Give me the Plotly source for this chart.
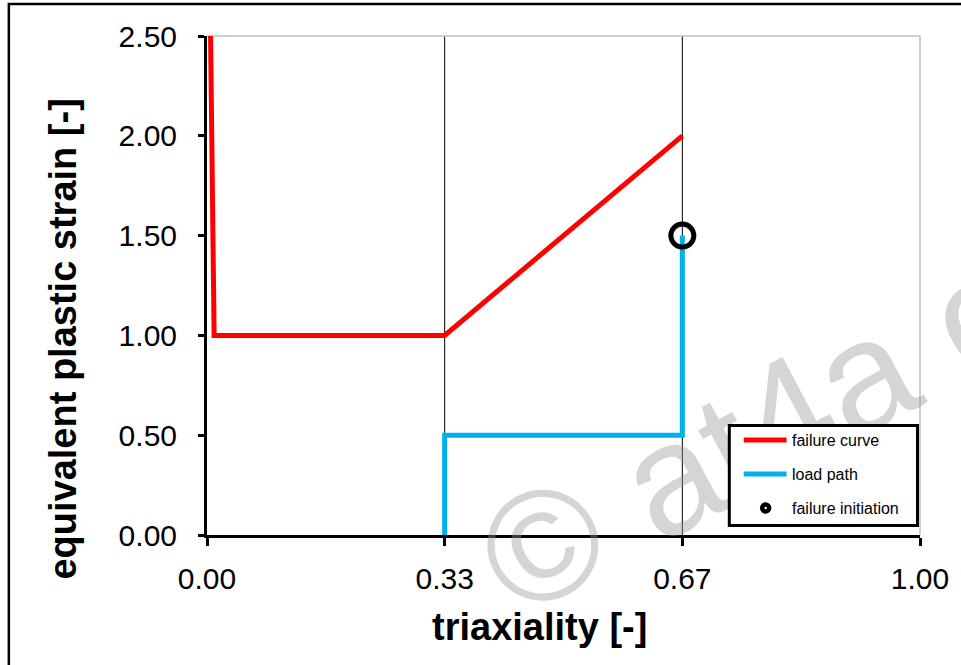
import plotly.graph_objects as go

# Failure curve: equivalent plastic strain at fracture vs. stress triaxiality
tri_fail = [0.005, 0.01, 1 / 3, 2 / 3]
eps_fail = [2.50, 1.00, 1.00, 2.00]

# Load path followed by the material point
tri_load = [1 / 3, 1 / 3, 2 / 3, 2 / 3]
eps_load = [0.00, 0.50, 0.50, 1.50]

# Point where the load path reaches failure
tri_init = [2 / 3]
eps_init = [1.50]

x_ticks = [0, 1 / 3, 2 / 3, 1]
x_tick_text = ["0.00", "0.33", "0.67", "1.00"]
y_ticks = [0.0, 0.5, 1.0, 1.5, 2.0, 2.5]

legend_labels = ["failure curve", "load path", "failure initiation"]

FONT = "Liberation Sans, Arial, sans-serif"
RED = "#FF0000"
BLUE = "#00B0F0"

# page margins (961 x 665 canvas)
L, R, T, B = 207, 35, 36, 130
# nominal plot-area span used to place decorations relative to the axes
PX0, PX1, PY0, PY1 = 207, 923, 36, 535


def px(x):
    return (x - PX0) / (PX1 - PX0)


def py(y):
    return (PY1 - y) / (PY1 - PY0)


fig = go.Figure()
fig.add_trace(go.Scatter(x=tri_fail, y=eps_fail, mode="lines", name=legend_labels[0],
                         line=dict(color=RED, width=5)))
fig.add_trace(go.Scatter(x=tri_load, y=eps_load, mode="lines", name=legend_labels[1],
                         line=dict(color=BLUE, width=5)))
fig.add_trace(go.Scatter(x=tri_init, y=eps_init, mode="markers", name=legend_labels[2],
                         marker=dict(symbol="circle-open", size=23, color="black",
                                     line=dict(width=5, color="black"))))

shapes = []
# thin black reference lines at the inner triaxiality ticks
for xv in x_ticks[1:-1]:
    shapes.append(dict(type="line", xref="x", yref="paper", x0=xv, x1=xv, y0=0, y1=1,
                       line=dict(color="black", width=1), layer="below"))
# light grey frame on top and right of the plot area
shapes.append(dict(type="line", xref="paper", yref="paper", x0=0, x1=1, y0=1, y1=1,
                   line=dict(color="#BFBFBF", width=1.5), layer="below"))
shapes.append(dict(type="line", xref="paper", yref="paper", x0=1, x1=1, y0=0, y1=1,
                   line=dict(color="#BFBFBF", width=1.5), layer="below"))
# outer chart border
shapes.append(dict(type="rect", xref="paper", yref="paper", x0=px(8), x1=1.3, y0=-0.5, y1=py(4),
                   line=dict(color="black", width=2.5), fillcolor="rgba(0,0,0,0)"))
# copyright watermark
cx, cy = px(750), py(419)
shapes.append(dict(type="rect", xref="paper", yref="paper", x0=cx - 0.005, x1=cx + 0.005,
                   y0=cy - 0.005, y1=cy + 0.005,
                   line=dict(width=0), fillcolor="rgba(0,0,0,0)", layer="above",
                   label=dict(text="© at4a e", textangle=-28, textposition="middle center",
                              font=dict(family=FONT, size=157, color="rgba(150,150,150,0.4)"))))

# legend box drawn over the watermark
LX0, LX1, LY0, LY1 = 731.5, 920.5, 425.5, 525.5
row_y = [440, 474, 508]
shapes.append(dict(type="rect", xref="paper", yref="paper",
                   x0=px(LX0), x1=px(LX1), y0=py(LY1), y1=py(LY0),
                   line=dict(color="black", width=3), fillcolor="white", layer="above"))
for ry, col in zip(row_y[:2], [RED, BLUE]):
    shapes.append(dict(type="line", xref="paper", yref="paper",
                       x0=px(746), x1=px(789), y0=py(ry), y1=py(ry),
                       line=dict(color=col, width=5), layer="above"))
shapes.append(dict(type="circle", xref="paper", yref="paper",
                   x0=px(764.5), x1=px(771.5), y0=py(511.5), y1=py(504.5),
                   line=dict(color="black", width=4.5), fillcolor="white", layer="above"))

annotations = [
    dict(text="<b>triaxiality [-]</b>", xref="paper", yref="paper", x=px(541), y=py(627),
         xanchor="center", yanchor="middle", showarrow=False,
         font=dict(family=FONT, size=38, color="black")),
    dict(text="<b>equivalent plastic strain [-]</b>", xref="paper", yref="paper",
         x=px(62), y=py(339), xanchor="center", yanchor="middle", textangle=-90,
         showarrow=False, font=dict(family=FONT, size=38, color="black")),
]
for ry, lab in zip(row_y, legend_labels):
    annotations.append(dict(text=lab, xref="paper", yref="paper", x=px(792), y=py(ry),
                            xanchor="left", yanchor="middle", showarrow=False,
                            font=dict(family=FONT, size=16, color="black")))

fig.update_layout(
    width=961, height=665,
    margin=dict(l=L, r=R, t=T, b=B),
    paper_bgcolor="white", plot_bgcolor="white",
    font=dict(family=FONT, color="black"),
    showlegend=False,
    shapes=shapes,
    annotations=annotations,
    xaxis=dict(range=[0, 1], tickmode="array", tickvals=x_ticks, ticktext=x_tick_text,
               showgrid=False, zeroline=False, showline=True, linecolor="black", linewidth=3,
               ticks="outside", ticklen=8, tickwidth=3, tickcolor="black",
               ticklabelstandoff=7,
               tickfont=dict(family=FONT, size=30, color="black")),
    yaxis=dict(range=[0, 2.5], tickmode="array", tickvals=y_ticks, tickformat=".2f",
               showgrid=False, zeroline=False, showline=True, linecolor="black", linewidth=3,
               ticks="outside", ticklen=6, tickwidth=3, tickcolor="black",
               ticklabelstandoff=15,
               tickfont=dict(family=FONT, size=30, color="black")),
)

fig.write_html("out.html")
